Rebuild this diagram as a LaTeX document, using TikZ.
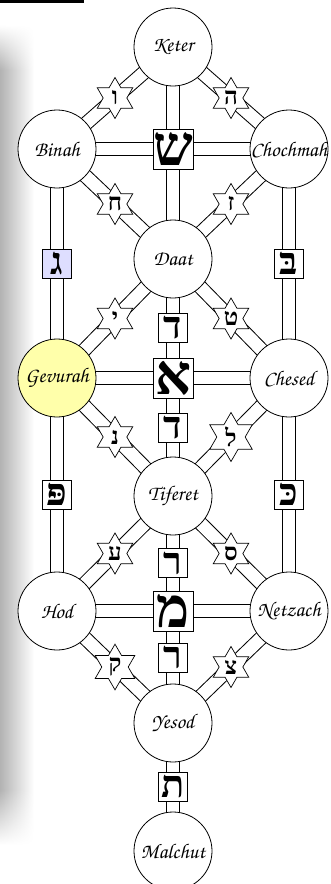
\documentclass[tikz,border=0pt]{standalone}
\usepackage[T1]{fontenc}
\usepackage{fontspec}
\usetikzlibrary{positioning, shapes.geometric, backgrounds, fadings}
\newfontfamily\hebfont[Script=Hebrew]{Liberation Serif}
\newcommand\chancery{\fontencoding{T1}\fontfamily{pzc}\fontseries{mb}\fontshape{it}\selectfont}
\TeXXeTstate=1
\newcommand\heb[1]{{\hebfont\bfseries\beginR #1\endR}}
\definecolor{gevurah yellow}{RGB}{255,255,170}
\definecolor{gimel blue}{RGB}{222,222,255}
\tikzfading[name=fade top, top color=transparent!100, bottom color=transparent!0]
\tikzfading[name=fade bottom, top color=transparent!0, bottom color=transparent!100]

\begin{document}
\begin{tikzpicture}[x=1pt, y=1pt, node distance=116pt,
  sefira/.style={circle, draw, fill=white, line width=0.8pt, minimum size=78pt, inner sep=0pt, font=\fontsize{21}{23}\chancery},
  tile/.style={draw, fill=white, line width=0.9pt, minimum size=29pt, inner sep=0pt, font=\fontsize{38}{38}\selectfont},
  big tile/.style={tile, minimum size=40pt, font=\fontsize{56}{56}\selectfont},
  star6/.style={star, star points=6, star point ratio=1.73, draw, fill=white, line width=0.7pt, minimum size=41pt, inner sep=0pt, font=\fontsize{24}{24}\selectfont},
  channel/.style={double, double distance=12.5pt, line width=1pt}]
\useasboundingbox (0,0) rectangle (331,-884);

\node[sefira] (keter) at (173,-47) {Keter};
\node[big tile, below of = keter, node distance=102pt] (shin) {\heb{ש}};
\node[sefira, left of = shin] (binah) {Binah};
\node[sefira, right of = shin] (chochmah) {Chochmah};
\node[sefira, below of = shin, node distance=110pt] (daat) {Daat};
\node[big tile, below of = daat, node distance=119pt] (alef) {\heb{א}};
\node[sefira, left of = alef, fill=gevurah yellow] (gevurah) {Gevurah};
\node[sefira, right of = alef] (chesed) {Chesed};
\node[sefira, below of = alef, node distance=118pt] (tiferet) {Tiferet};
\node[big tile, below of = tiferet, node distance=115pt] (mem) {\heb{מ}};
\node[sefira, left of = mem] (hod) {Hod};
\node[sefira, right of = mem] (netzach) {Netzach};
\node[sefira, below of = mem, node distance=112pt] (yesod) {Yesod};
\node[sefira, below of = yesod, node distance=128pt] (malchut) {Malchut};

\begin{scope}[on background layer]
\fill (0,0) rectangle (84,-2.5);
\shade[left color=black!30, right color=white, path fading=fade top] (0,-25) rectangle (34,-70);
\shade[left color=black!30, right color=white] (0,-70) rectangle (34,-790);
\shade[left color=black!30, right color=white, path fading=fade bottom] (0,-790) rectangle (34,-845);

\draw[channel] (keter.center) -- (binah.center);
\draw[channel] (keter.center) -- (chochmah.center);
\draw[channel] (keter.center) -- (daat.center);
\draw[channel] (binah.center) -- (chochmah.center);
\draw[channel] (binah.center) -- (daat.center);
\draw[channel] (chochmah.center) -- (daat.center);
\draw[channel] (binah.center) -- (gevurah.center);
\draw[channel] (chochmah.center) -- (chesed.center);
\draw[channel] (daat.center) -- (gevurah.center);
\draw[channel] (daat.center) -- (chesed.center);
\draw[channel] (daat.center) -- (tiferet.center);
\draw[channel] (gevurah.center) -- (chesed.center);
\draw[channel] (gevurah.center) -- (tiferet.center);
\draw[channel] (chesed.center) -- (tiferet.center);
\draw[channel] (gevurah.center) -- (hod.center);
\draw[channel] (chesed.center) -- (netzach.center);
\draw[channel] (tiferet.center) -- (hod.center);
\draw[channel] (tiferet.center) -- (netzach.center);
\draw[channel] (tiferet.center) -- (yesod.center);
\draw[channel] (hod.center) -- (netzach.center);
\draw[channel] (hod.center) -- (yesod.center);
\draw[channel] (netzach.center) -- (yesod.center);
\draw[channel] (yesod.center) -- (malchut.center);
\end{scope}

\path (keter) -- node[star6] (vav) {\heb{ו}} (binah);
\path (keter) -- node[star6] (he) {\heb{ה}} (chochmah);
\path (binah) -- node[star6] (chet) {\heb{ח}} (daat);
\path (chochmah) -- node[star6] (zayin) {\heb{ז}} (daat);
\path (binah) -- node[tile, fill=gimel blue] (gimel) {\heb{ג}} (gevurah);
\path (chochmah) -- node[tile] (bet) {\heb{בּ}} (chesed);
\path (daat) -- node[star6] (yod) {\heb{י}} (gevurah);
\path (daat) -- node[star6] (tet) {\heb{ט}} (chesed);
\path (daat) -- node[tile] (dalet a) {\heb{ד}} (alef);
\path (alef) -- node[tile] (dalet b) {\heb{ד}} (tiferet);
\path (gevurah) -- node[star6] (nun) {\heb{נ}} (tiferet);
\path (chesed) -- node[star6] (lamed) {\heb{ל}} (tiferet);
\path (gevurah) -- node[tile] (pe) {\heb{פּ}} (hod);
\path (chesed) -- node[tile] (kaf) {\heb{כּ}} (netzach);
\path (tiferet) -- node[star6] (ayin) {\heb{ע}} (hod);
\path (tiferet) -- node[star6] (samekh) {\heb{ס}} (netzach);
\path (tiferet) -- node[tile] (resh a) {\heb{ר}} (mem);
\path (mem) -- node[tile] (resh b) {\heb{ר}} (yesod);
\path (hod) -- node[star6] (qof) {\heb{ק}} (yesod);
\path (netzach) -- node[star6] (tsadi) {\heb{צ}} (yesod);
\path (yesod) -- node[tile] (tav) {\heb{ת}} (malchut);

\end{tikzpicture}
\end{document}
